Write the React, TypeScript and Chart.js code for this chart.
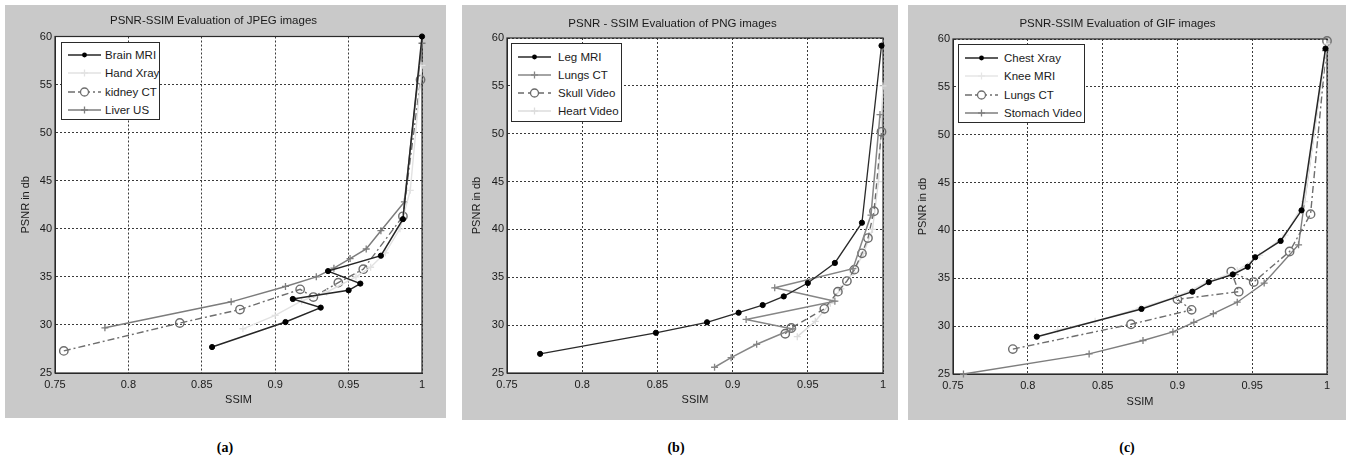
import React, { useEffect, useRef } from "react";
import { Chart, registerables } from "chart.js";

Chart.register(...registerables);

// ---------- axis ticks ----------
const xTicks = [0.75, 0.8, 0.85, 0.9, 0.95, 1];
const xTickLabels = ["0.75", "0.8", "0.85", "0.9", "0.95", "1"];
const yTicks = [25, 30, 35, 40, 45, 50, 55, 60];
const yTickLabels = ["25", "30", "35", "40", "45", "50", "55", "60"];

// ---------- (a) JPEG ----------
const jpegBrainMriSsim = [0.857, 0.907, 0.931, 0.912, 0.95, 0.958, 0.936, 0.972, 0.987, 1.0];
const jpegBrainMriPsnr = [27.7, 30.3, 31.8, 32.7, 33.6, 34.3, 35.6, 37.2, 41.0, 60.0];
const jpegHandXraySsim = [0.878, 0.9, 0.918, 0.935, 0.955, 0.965, 0.975, 0.985, 0.992, 1.0];
const jpegHandXrayPsnr = [29.6, 31.0, 32.5, 33.4, 35.0, 36.0, 37.5, 40.0, 44.0, 57.0];
const jpegKidneyCtSsim = [0.756, 0.835, 0.876, 0.917, 0.926, 0.943, 0.96, 0.987, 0.999];
const jpegKidneyCtPsnr = [27.3, 30.2, 31.6, 33.7, 32.9, 34.4, 35.8, 41.3, 55.5];
const jpegLiverUsSsim = [0.784, 0.87, 0.907, 0.928, 0.94, 0.951, 0.962, 0.972, 0.988, 1.0];
const jpegLiverUsPsnr = [29.7, 32.4, 34.0, 35.0, 35.9, 36.9, 37.9, 39.8, 42.8, 59.3];

// ---------- (b) PNG ----------
const pngLegMriSsim = [0.772, 0.849, 0.883, 0.904, 0.92, 0.934, 0.95, 0.968, 0.986, 0.999];
const pngLegMriPsnr = [27.0, 29.2, 30.3, 31.3, 32.1, 33.0, 34.4, 36.5, 40.7, 59.2];
const pngLungsCtSsim = [0.888, 0.899, 0.916, 0.94, 0.909, 0.968, 0.928, 0.98, 0.992, 0.998];
const pngLungsCtPsnr = [25.6, 26.6, 28.0, 29.6, 30.6, 32.5, 33.9, 35.9, 41.5, 52.0];
const pngSkullVideoSsim = [0.935, 0.939, 0.961, 0.97, 0.976, 0.981, 0.986, 0.99, 0.994, 0.999];
const pngSkullVideoPsnr = [29.1, 29.7, 31.7, 33.5, 34.6, 35.8, 37.5, 39.1, 41.9, 50.2];
const pngHeartVideoSsim = [0.943, 0.955, 0.965, 0.972, 0.98, 0.987, 0.993, 0.997, 1.0];
const pngHeartVideoPsnr = [28.8, 30.4, 32.3, 33.8, 35.5, 37.5, 40.0, 45.0, 55.0];

// ---------- (c) GIF ----------
const gifChestXraySsim = [0.806, 0.876, 0.91, 0.921, 0.937, 0.947, 0.952, 0.969, 0.983, 0.999];
const gifChestXrayPsnr = [28.9, 31.8, 33.6, 34.6, 35.4, 36.2, 37.2, 38.9, 42.1, 59.0];
const gifKneeMriSsim = [0.82, 0.845, 0.875, 0.9, 0.92, 0.94, 0.955, 0.972, 0.985, 1.0];
const gifKneeMriPsnr = [29.6, 30.5, 31.9, 33.1, 34.6, 35.8, 37.4, 39.5, 43.0, 59.5];
const gifLungsCtSsim = [0.79, 0.869, 0.9095, 0.9, 0.941, 0.936, 0.951, 0.975, 0.989, 1.0];
const gifLungsCtPsnr = [27.6, 30.2, 31.7, 32.8, 33.6, 35.7, 34.6, 37.8, 41.7, 59.8];
const gifStomachVideoSsim = [0.757, 0.841, 0.877, 0.897, 0.911, 0.924, 0.94, 0.958, 0.981, 0.999];
const gifStomachVideoPsnr = [25.0, 27.1, 28.5, 29.4, 30.4, 31.3, 32.5, 34.5, 38.5, 58.8];

// ---------- styling ----------
const PANEL_BG = "#c9c9c9";
const FONT = "'Liberation Sans', Arial, sans-serif";

type Marker = "dot" | "plus" | "circle";
type Series = {
  label: string;
  ssim: number[];
  psnr: number[];
  color: string;
  dash: number[];
  marker: Marker;
  width: number;
};

type PanelDef = {
  box: { left: number; top: number; width: number; height: number };
  plot: { left: number; right: number; top: number; bottom: number };
  title: string;
  titleY: number;
  xTitleY: number;
  yTitleX: number;
  legend: { left: number; top: number; width: number; height: number; textLeft: number; firstRow: number; pitch: number };
  series: Series[];
};

const DASHDOT = [7, 3, 2, 3];

const panels: PanelDef[] = [
  {
    box: { left: 5, top: 5, width: 441, height: 413 },
    plot: { left: 55, right: 422, top: 36.5, bottom: 373 },
    title: "PSNR-SSIM Evaluation of JPEG images",
    titleY: 21,
    xTitleY: 400,
    yTitleX: 26,
    legend: { left: 61, top: 42, width: 99, height: 78, textLeft: 43, firstRow: 12, pitch: 18.3 },
    series: [
      { label: "Brain MRI", ssim: jpegBrainMriSsim, psnr: jpegBrainMriPsnr, color: "#262626", dash: [], marker: "dot", width: 1.5 },
      { label: "Hand Xray", ssim: jpegHandXraySsim, psnr: jpegHandXrayPsnr, color: "#e2e2e2", dash: [], marker: "plus", width: 1.4 },
      { label: "kidney CT", ssim: jpegKidneyCtSsim, psnr: jpegKidneyCtPsnr, color: "#6e6e6e", dash: DASHDOT, marker: "circle", width: 1.4 },
      { label: "Liver US", ssim: jpegLiverUsSsim, psnr: jpegLiverUsPsnr, color: "#7c7c7c", dash: [], marker: "plus", width: 1.5 },
    ],
  },
  {
    box: { left: 462, top: 5, width: 436, height: 415 },
    plot: { left: 507, right: 883, top: 38, bottom: 373 },
    title: "PSNR - SSIM Evaluation of PNG images",
    titleY: 24,
    xTitleY: 400,
    yTitleX: 477,
    legend: { left: 511, top: 43, width: 111, height: 79, textLeft: 46, firstRow: 13, pitch: 18 },
    series: [
      { label: "Leg MRI", ssim: pngLegMriSsim, psnr: pngLegMriPsnr, color: "#2a2a2a", dash: [], marker: "dot", width: 1.3 },
      { label: "Lungs CT", ssim: pngLungsCtSsim, psnr: pngLungsCtPsnr, color: "#868686", dash: [], marker: "plus", width: 1.5 },
      { label: "Skull Video", ssim: pngSkullVideoSsim, psnr: pngSkullVideoPsnr, color: "#6a6a6a", dash: [6, 4], marker: "circle", width: 1.3 },
      { label: "Heart Video", ssim: pngHeartVideoSsim, psnr: pngHeartVideoPsnr, color: "#dcdcdc", dash: [], marker: "plus", width: 1.4 },
    ],
  },
  {
    box: { left: 908, top: 5, width: 438, height: 415 },
    plot: { left: 953, right: 1327, top: 39, bottom: 374 },
    title: "PSNR-SSIM Evaluation of GIF images",
    titleY: 24,
    xTitleY: 402,
    yTitleX: 923,
    legend: { left: 958, top: 44, width: 127, height: 79, textLeft: 45, firstRow: 13, pitch: 18.3 },
    series: [
      { label: "Chest Xray", ssim: gifChestXraySsim, psnr: gifChestXrayPsnr, color: "#262626", dash: [], marker: "dot", width: 1.5 },
      { label: "Knee MRI", ssim: gifKneeMriSsim, psnr: gifKneeMriPsnr, color: "#e6e6e6", dash: [], marker: "plus", width: 1.4 },
      { label: "Lungs CT", ssim: gifLungsCtSsim, psnr: gifLungsCtPsnr, color: "#6e6e6e", dash: DASHDOT, marker: "circle", width: 1.4 },
      { label: "Stomach Video", ssim: gifStomachVideoSsim, psnr: gifStomachVideoPsnr, color: "#7e7e7e", dash: [], marker: "plus", width: 1.4 },
    ],
  },
];

const framePlugin = {
  id: "matlabFrame",
  beforeDraw(chart: any) {
    const { ctx, chartArea: a, width, height } = chart;
    ctx.save();
    ctx.fillStyle = PANEL_BG;
    ctx.fillRect(0, 0, width, height);
    ctx.fillStyle = "#ffffff";
    ctx.fillRect(a.left, a.top, a.right - a.left, a.bottom - a.top);
    ctx.restore();
  },
  beforeDatasetsDraw(chart: any) {
    const { ctx, chartArea: a } = chart;
    ctx.save();
    ctx.strokeStyle = "#2a2a2a";
    ctx.lineWidth = 1.2;
    ctx.setLineDash([]);
    ctx.strokeRect(a.left, a.top, a.right - a.left, a.bottom - a.top);
    ctx.restore();
  },
};

function markerStyle(m: Marker, color: string) {
  if (m === "dot") return { pointStyle: "circle", pointRadius: 2.6, pointBackgroundColor: "#000", pointBorderColor: "#000", pointBorderWidth: 1 };
  if (m === "circle") return { pointStyle: "circle", pointRadius: 4.2, pointBackgroundColor: "rgba(255,255,255,0)", pointBorderColor: color, pointBorderWidth: 1.4 };
  return { pointStyle: "cross", pointRadius: 3.5, pointBackgroundColor: color, pointBorderColor: color, pointBorderWidth: 1.3 };
}

function Panel({ def }: { def: PanelDef }) {
  const ref = useRef<HTMLCanvasElement | null>(null);
  useEffect(() => {
    if (!ref.current) return;
    const { box, plot } = def;
    const relTop = plot.top - box.top;
    const relLeft = plot.left - box.left;
    const relRight = box.left + box.width - plot.right;
    const relBottom = box.top + box.height - plot.bottom;
    const titleSize = 11.5;
    const titleLH = titleSize * 1.2;
    const titleCenter = def.titleY - box.top;
    const tPadTop = titleCenter - titleLH / 2;
    const tPadBottom = relTop - titleLH - tPadTop;
    const axSize = 11;
    const axLH = axSize * 1.2;
    const xTitleOffset = box.top + box.height - def.xTitleY - axLH / 2;
    const yTitleOffset = def.yTitleX - box.left - axLH / 2;

    const chart = new Chart(ref.current, {
      type: "scatter",
      data: {
        datasets: def.series.map((s) => ({
          label: s.label,
          data: s.ssim.map((x, i) => ({ x, y: s.psnr[i] })),
          showLine: true,
          tension: 0,
          borderColor: s.color,
          borderWidth: s.width,
          borderDash: s.dash,
          clip: 8,
          ...markerStyle(s.marker, s.color),
        })),
      },
      plugins: [framePlugin],
      options: {
        animation: false,
        responsive: false,
        devicePixelRatio: 1,
        layout: { padding: { left: 0, right: relRight, top: 0, bottom: 0 } },
        plugins: {
          legend: { display: false },
          tooltip: { enabled: false },
          title: {
            display: true,
            text: def.title,
            color: "#1a1a1a",
            font: { family: FONT, size: titleSize, weight: "normal", lineHeight: 1.2 },
            padding: { top: tPadTop, bottom: tPadBottom },
          },
        },
        scales: {
          x: {
            type: "linear",
            min: 0.75,
            max: 1,
            afterBuildTicks: (scale: any) => {
              scale.ticks = xTicks.map((v) => ({ value: v }));
            },
            afterFit: (scale: any) => {
              scale.height = relBottom;
            },
            ticks: {
              autoSkip: false,
              maxRotation: 0,
              padding: 5,
              color: "#1a1a1a",
              font: { family: FONT, size: 11 },
              callback: (_v: any, i: number) => xTickLabels[i],
            },
            grid: { color: "#3a3a3a", lineWidth: 1, drawTicks: false },
            border: { display: true, color: "#2a2a2a", dash: [2, 2] },
            title: {
              display: true,
              text: "SSIM",
              color: "#1a1a1a",
              font: { family: FONT, size: axSize, lineHeight: 1.2 },
              padding: { top: 0, bottom: xTitleOffset },
            },
          },
          y: {
            type: "linear",
            min: 25,
            max: 60,
            afterBuildTicks: (scale: any) => {
              scale.ticks = yTicks.map((v) => ({ value: v }));
            },
            afterFit: (scale: any) => {
              scale.width = relLeft;
            },
            ticks: {
              autoSkip: false,
              padding: 3,
              color: "#1a1a1a",
              font: { family: FONT, size: 11 },
              callback: (_v: any, i: number) => yTickLabels[i],
            },
            grid: { color: "#3a3a3a", lineWidth: 1, drawTicks: false },
            border: { display: true, color: "#2a2a2a", dash: [2, 2] },
            title: {
              display: true,
              text: "PSNR in db",
              color: "#1a1a1a",
              font: { family: FONT, size: axSize, lineHeight: 1.2 },
              padding: { top: yTitleOffset, bottom: 0 },
            },
          },
        },
      } as any,
    });
    return () => chart.destroy();
  }, [def]);

  const { box, legend } = def;
  return (
    <>
      <canvas
        ref={ref}
        width={box.width}
        height={box.height}
        style={{ position: "absolute", left: box.left, top: box.top, width: box.width, height: box.height }}
      />
      <div
        style={{
          position: "absolute",
          left: legend.left,
          top: legend.top,
          width: legend.width,
          height: legend.height,
          boxSizing: "border-box",
          background: "#fff",
          border: "1.5px solid #2a2a2a",
          fontFamily: FONT,
          fontSize: 11.5,
          color: "#1a1a1a",
        }}
      >
        {def.series.map((s, i) => {
          const cy = legend.firstRow + i * legend.pitch;
          return (
            <div key={s.label} style={{ position: "absolute", left: 0, top: cy - 8, height: 16, width: "100%" }}>
              <svg width={36} height={16} style={{ position: "absolute", left: 5, top: 0 }}>
                <line x1={1} y1={8} x2={34} y2={8} stroke={s.color} strokeWidth={s.width} strokeDasharray={s.dash.length ? s.dash.join(" ") : undefined} />
                {s.marker === "dot" && <circle cx={17.5} cy={8} r={2.4} fill="#000" />}
                {s.marker === "circle" && <circle cx={17.5} cy={8} r={4} fill="#fff" stroke={s.color} strokeWidth={1.3} />}
                {s.marker === "plus" && (
                  <>
                    <line x1={17.5} y1={4.5} x2={17.5} y2={11.5} stroke={s.color} strokeWidth={1.3} />
                    <line x1={14} y1={8} x2={21} y2={8} stroke={s.color} strokeWidth={1.3} />
                  </>
                )}
              </svg>
              <span style={{ position: "absolute", left: legend.textLeft, top: 1, lineHeight: "14px", whiteSpace: "nowrap" }}>{s.label}</span>
            </div>
          );
        })}
      </div>
    </>
  );
}

const captions = [
  { text: "(a)", x: 225 },
  { text: "(b)", x: 676 },
  { text: "(c)", x: 1127 },
];

export default function App() {
  return (
    <div style={{ position: "absolute", left: 0, top: 0, width: 1351, height: 470, background: "#fff", overflow: "hidden" }}>
      {panels.map((p) => (
        <Panel key={p.title} def={p} />
      ))}
      {captions.map((c) => (
        <div
          key={c.text}
          style={{
            position: "absolute",
            left: c.x - 20,
            top: 439,
            width: 40,
            textAlign: "center",
            fontFamily: "'Liberation Serif', 'Times New Roman', serif",
            fontWeight: "bold",
            fontSize: 14,
            lineHeight: "18px",
          }}
        >
          {c.text}
        </div>
      ))}
    </div>
  );
}
